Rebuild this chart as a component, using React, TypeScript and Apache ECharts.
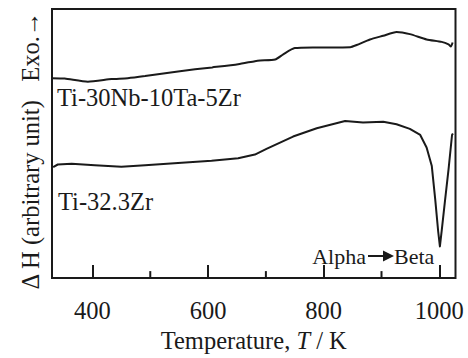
import React, { useEffect, useRef } from "react";
import * as echarts from "echarts";

// Ti-30Nb-10Ta-5Zr (upper trace)
const tempA = [330, 352, 392, 433, 461, 491, 548, 607, 652, 681, 690, 716, 730, 750, 788, 846, 857, 880, 903, 926, 949, 978, 1004, 1016, 1020, 1023];
const dhA = [214.7, 214.3, 211, 213.7, 214.7, 217, 222, 226.3, 229.7, 233, 233.7, 234.7, 240.3, 247, 247.7, 248, 250.3, 256.3, 260.3, 264.3, 262, 256.3, 253.7, 251, 248.7, 253];

// Ti-32.3Zr (lower trace)
const tempB = [332, 340, 364, 404, 450, 491, 548, 606, 652, 681, 701, 747, 788, 837, 868, 903, 926, 949, 967, 978, 987, 993, 998, 1001, 1004, 1010, 1016, 1022, 1023.5];
const dhB = [119.3, 122, 122.7, 121.3, 119.7, 121.3, 123.7, 126, 128.7, 132.7, 138.7, 152, 161, 168.7, 167, 168, 165.3, 160.3, 153.7, 140.3, 120.3, 84, 50.3, 34, 50.3, 84, 117, 153.7, 155.3];

const majorTicks = [400, 600, 800, 1000];
const minorTicks = [500, 700, 900];
const seriesNames = ["Ti-30Nb-10Ta-5Zr", "Ti-32.3Zr"];

const FONT = "'Liberation Serif', 'Times New Roman', Times, serif";
const INK = "#1a1a1a";
const FS = 24.5;

export default function App() {
  const ref = useRef<HTMLDivElement>(null);
  useEffect(() => {
    const chart = echarts.init(ref.current!, null, { renderer: "svg" });
    const zip = (xs: number[], ys: number[]) => xs.map((x, i) => [x, ys[i]]);
    const annotations: any[] = [
      {
        type: "text",
        left: 57,
        top: 85,
        style: { text: seriesNames[0], font: `${FS}px ${FONT}`, fill: INK },
      },
      {
        type: "text",
        left: 58,
        top: 189,
        style: { text: seriesNames[1], font: `${FS}px ${FONT}`, fill: INK },
      },
      {
        type: "text",
        x: 366,
        y: 256,
        style: { text: "Alpha", font: `22px ${FONT}`, fill: INK, align: "right", verticalAlign: "middle" },
      },
      {
        type: "line",
        shape: { x1: 368, y1: 256, x2: 384, y2: 256 },
        style: { stroke: INK, lineWidth: 2 },
      },
      {
        type: "polygon",
        shape: { points: [[383, 250.5], [394, 256], [383, 261.5]] },
        style: { fill: INK },
      },
      {
        type: "text",
        x: 394,
        y: 256,
        style: { text: "Beta", font: `22px ${FONT}`, fill: INK, align: "left", verticalAlign: "middle" },
      },
    ];
    chart.setOption({
      animation: false,
      textStyle: { fontFamily: FONT },
      grid: {
        left: 52,
        top: 9,
        right: 12.5,
        bottom: 61,
        show: true,
        borderColor: INK,
        borderWidth: 2,
        backgroundColor: "transparent",
      },
      xAxis: {
        type: "value",
        min: 330,
        max: 1028,
        position: "bottom",
        axisLine: { show: false },
        splitLine: { show: false },
        axisTick: {
          inside: true,
          length: 13,
          customValues: majorTicks,
          lineStyle: { color: INK, width: 2 },
        },
        axisLabel: {
          customValues: majorTicks,
          formatter: (v: number) => String(v),
          fontSize: FS,
          color: INK,
          margin: 20,
          fontFamily: FONT,
        },
        name: "Temperature, {i|T} / K",
        nameLocation: "middle",
        nameGap: 42,
        nameTextStyle: {
          fontSize: FS,
          color: INK,
          fontFamily: FONT,
          rich: { i: { fontStyle: "italic", fontSize: FS, fontFamily: FONT, color: INK } },
        },
      },
      yAxis: {
        type: "value",
        min: 0,
        max: 289,
        axisLine: { show: false },
        axisTick: { show: false },
        axisLabel: { show: false },
        splitLine: { show: false },
        name: "Δ H (arbitrary unit)   Exo.→",
        nameLocation: "middle",
        nameRotate: 90,
        nameGap: 9,
        nameTextStyle: { fontSize: FS, color: INK, fontFamily: FONT, padding: [0, 14, 0, 0] },
      },
      series: [
        {
          name: seriesNames[0],
          type: "line",
          data: zip(tempA, dhA),
          showSymbol: false,
          smooth: 0.2,
          lineStyle: { color: INK, width: 2 },
        },
        {
          name: seriesNames[1],
          type: "line",
          data: zip(tempB, dhB),
          showSymbol: false,
          smooth: false,
          lineStyle: { color: INK, width: 2, join: "round" },
        },
      ],
      graphic: annotations,
    });
    // minor ticks placed through the axis scale
    const yBottom = chart.convertToPixel({ yAxisIndex: 0 }, 0) as number;
    const minorLines = minorTicks.map((v) => {
      const x = chart.convertToPixel({ xAxisIndex: 0 }, v) as number;
      return {
        type: "line",
        shape: { x1: x, y1: yBottom, x2: x, y2: yBottom - 7 },
        style: { stroke: INK, lineWidth: 2 },
      };
    });
    chart.setOption({ graphic: [...annotations, ...minorLines] });
    return () => chart.dispose();
  }, []);
  return (
    <div
      ref={ref}
      style={{ position: "absolute", left: 0, top: 0, width: 468, height: 358, background: "#fff" }}
    />
  );
}
